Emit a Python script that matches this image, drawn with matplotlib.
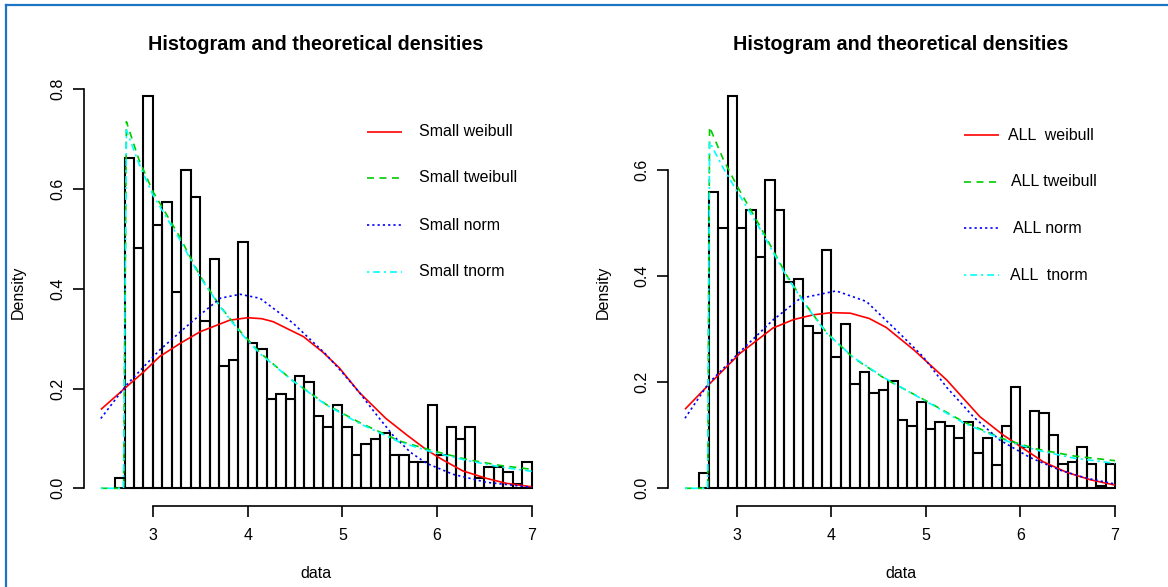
import numpy as np
import matplotlib
matplotlib.use("Agg")
import matplotlib.pyplot as plt
from matplotlib.lines import Line2D

plt.rcParams['font.family'] = ['Liberation Sans', 'DejaVu Sans']
plt.rcParams['lines.scale_dashes'] = False

W, H = 1168, 587

# histogram bins (left edges, width 0.1)
bin_left = np.round(np.arange(2.6, 7.0, 0.1), 1)

small_density = [0.021, 0.663, 0.482, 0.787,
                 0.528, 0.573, 0.394, 0.639, 0.585, 0.336, 0.459, 0.246, 0.258, 0.494,
                 0.291, 0.279, 0.180, 0.189, 0.180, 0.225, 0.213, 0.144, 0.122, 0.168,
                 0.122, 0.066, 0.089, 0.098, 0.111, 0.066, 0.066, 0.053, 0.053, 0.168,
                 0.066, 0.122, 0.098, 0.122, 0.020, 0.043, 0.043, 0.033, 0.009, 0.053]
all_density = [0.028, 0.558, 0.490, 0.740,
               0.490, 0.524, 0.435, 0.581, 0.524, 0.389, 0.394, 0.305, 0.293, 0.450,
               0.248, 0.310, 0.197, 0.219, 0.180, 0.186, 0.202, 0.129, 0.117, 0.163,
               0.112, 0.124, 0.117, 0.095, 0.124, 0.067, 0.095, 0.044, 0.117, 0.191,
               0.078, 0.146, 0.141, 0.101, 0.045, 0.050, 0.078, 0.045, 0.004, 0.045]

# fitted density curves
small_weib_x = [2.45, 2.70, 2.90, 3.07, 3.30, 3.50, 3.81, 4.00, 4.15, 4.27, 4.59, 4.80, 4.97,
                5.18, 5.46, 5.68, 5.89, 6.06, 6.27, 6.52, 6.73, 7.00]
small_weib_y = [0.158, 0.200, 0.233, 0.264, 0.292, 0.314, 0.337, 0.342, 0.340, 0.334, 0.304,
                0.272, 0.241, 0.192, 0.140, 0.107, 0.077, 0.057, 0.035, 0.020, 0.010, 0.003]
small_norm_x = [2.45, 2.72, 3.07, 3.43, 3.71, 3.92, 4.13, 4.48, 4.83, 5.00, 5.18, 5.35, 5.54,
                5.72, 5.89, 6.17, 6.52, 7.00]
small_norm_y = [0.140, 0.207, 0.277, 0.337, 0.381, 0.389, 0.381, 0.331, 0.268, 0.232, 0.192,
                0.150, 0.105, 0.072, 0.050, 0.028, 0.012, 0.002]
small_tw_x = [2.45, 2.69, 2.72, 2.85, 3.00, 3.28, 3.50, 3.71, 3.92, 4.13, 4.48, 4.83, 5.18,
              5.60, 5.96, 6.31, 6.66, 7.00]
small_tw_y = [0.0, 0.0, 0.735, 0.660, 0.595, 0.505, 0.425, 0.365, 0.315, 0.272, 0.215, 0.168,
              0.132, 0.095, 0.075, 0.058, 0.046, 0.038]
small_tn_y = [0.0, 0.0, 0.718, 0.652, 0.588, 0.500, 0.423, 0.364, 0.313, 0.270, 0.215, 0.167,
              0.130, 0.093, 0.072, 0.056, 0.043, 0.034]

all_weib_x = [2.45, 2.70, 3.03, 3.38, 3.60, 3.81, 4.00, 4.20, 4.40, 4.58, 4.87, 5.22, 5.57,
              5.82, 6.03, 6.24, 6.49, 6.74, 7.00]
all_weib_y = [0.149, 0.195, 0.254, 0.302, 0.318, 0.327, 0.331, 0.330, 0.320, 0.303, 0.261,
              0.204, 0.135, 0.100, 0.075, 0.050, 0.030, 0.016, 0.006]
all_norm_x = [2.45, 2.70, 3.03, 3.38, 3.67, 4.05, 4.37, 4.72, 4.97, 5.22, 5.50, 5.78, 6.10,
              6.42, 6.70, 7.00]
all_norm_y = [0.132, 0.198, 0.257, 0.317, 0.358, 0.372, 0.352, 0.292, 0.248, 0.190, 0.135,
              0.091, 0.058, 0.034, 0.019, 0.008]
all_tw_x = [2.45, 2.69, 2.71, 2.85, 3.00, 3.24, 3.53, 3.74, 3.95, 4.23, 4.58, 5.00, 5.40,
            5.82, 6.17, 6.56, 7.00]
all_tw_y = [0.0, 0.0, 0.681, 0.622, 0.570, 0.495, 0.400, 0.343, 0.293, 0.246, 0.205, 0.165,
            0.125, 0.093, 0.074, 0.061, 0.052]
all_tn_y = [0.0, 0.0, 0.653, 0.605, 0.560, 0.490, 0.398, 0.342, 0.292, 0.247, 0.206, 0.164,
            0.123, 0.091, 0.072, 0.057, 0.047]

small_labels = ["Small weibull", "Small tweibull", "Small norm", "Small tnorm"]
all_labels = ["ALL  weibull", "ALL tweibull", "ALL norm", "ALL  tnorm"]

colors = ["#FF0000", "#00CD00", "#0000FF", "#00FFFF"]
styles = [(0, ()), (0, (5, 4)), (0, (1.6, 2.2)), (0, (1.6, 2.8, 5, 2.8))]


def fx(px):
    return px / W


def fy(py):
    return 1 - py / H


fig = plt.figure(figsize=(W / 100, H / 100), dpi=100)


def panel(left_px, right_px, top_px, bottom_px, ylim, yticks, dens, curves, labels,
          leg_line, leg_text_x, leg_rows, title_x, ylab_x):
    ax = fig.add_axes([fx(left_px), fy(bottom_px), fx(right_px - left_px),
                       (bottom_px - top_px) / H])
    ax.set_xlim(2.268, 7.182)
    ax.set_ylim(*ylim)
    ax.bar(bin_left, dens, width=0.1, align='edge', facecolor='none',
           edgecolor='black', linewidth=1.5)
    for (cx, cy), c, ls in zip(curves, colors, styles):
        ax.plot(cx, cy, color=c, linestyle=ls, linewidth=1.2)
    for s in ['top', 'right']:
        ax.spines[s].set_visible(False)
    ax.spines['left'].set_bounds(yticks[0], yticks[-1])
    ax.spines['bottom'].set_bounds(3, 7)
    for s in ['left', 'bottom']:
        ax.spines[s].set_linewidth(1.2)
    ax.set_xticks([3, 4, 5, 6, 7])
    ax.set_yticks(yticks)
    ax.set_yticklabels(["%.1f" % v for v in yticks], rotation=90, va='center')
    ax.tick_params(length=8, width=1.2, labelsize=11.5, colors='black')
    ax.tick_params(axis='x', pad=8)
    ax.tick_params(axis='y', pad=5)
    fig.text(fx(title_x), fy(45), "Histogram and theoretical densities", ha='center',
             va='center', fontsize=14.2, fontweight='bold')
    fig.text(fx(title_x), fy(573), "data", ha='center', va='center', fontsize=11.5)
    fig.text(fx(ylab_x), fy(292), "Density", ha='center', va='center', fontsize=11.5,
             rotation=90)
    for i, (lab, c, ls) in enumerate(zip(labels, colors, styles)):
        yy = fy(leg_rows[i])
        fig.add_artist(Line2D([fx(leg_line[0]), fx(leg_line[1])], [yy, yy], color=c,
                              linestyle=ls, linewidth=1.2))
        fig.text(fx(leg_text_x[i]), yy, lab, ha='left', va='center', fontsize=11.5)
    return ax


panel(83.6, 549, 80, 506, (-0.0355, 0.8186), [0.0, 0.2, 0.4, 0.6, 0.8], small_density,
      [(small_weib_x, small_weib_y), (small_tw_x, small_tw_y),
       (small_norm_x, small_norm_y), (small_tw_x, small_tn_y)],
      small_labels, (367, 402), [419, 419, 419, 419], [132, 178, 225, 272], 316, 18)

panel(667.8, 1132.2, 80, 506, (-0.0334, 0.7695), [0.0, 0.2, 0.4, 0.6], all_density,
      [(all_weib_x, all_weib_y), (all_tw_x, all_tw_y),
       (all_norm_x, all_norm_y), (all_tw_x, all_tn_y)],
      all_labels, (964, 999), [1008, 1011, 1013, 1010], [135, 182, 228, 275], 901, 603)

# blue frame around the screenshot
fig.add_artist(Line2D([fx(6), fx(W)], [fy(5), fy(5)], color="#1C74C4", linewidth=1.6))
fig.add_artist(Line2D([fx(6), fx(6)], [fy(5), fy(H)], color="#1C74C4", linewidth=1.6))

fig.savefig("out.png", dpi=100)
